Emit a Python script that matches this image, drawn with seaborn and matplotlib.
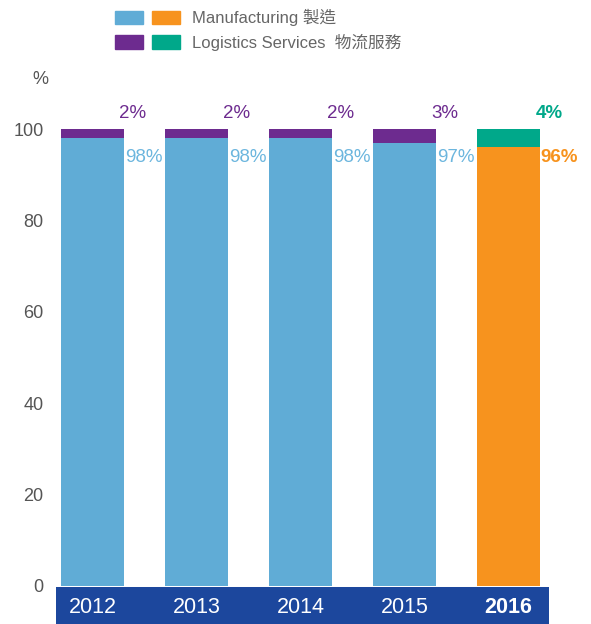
import pandas as pd
import matplotlib.pyplot as plt
import seaborn as sns
from matplotlib.patches import Patch, Rectangle
from matplotlib.legend_handler import HandlerTuple

# ============ DATA ============
years = ["2012", "2013", "2014", "2015", "2016"]
manufacturing = [98, 98, 98, 97, 96]
logistics = [2, 2, 2, 3, 4]
# ==============================

BLUE = "#60acd6"
ORANGE = "#f7931e"
PURPLE = "#6d2b8f"
GREEN = "#00a88a"
BAND = "#1c479d"
LIGHT_BLUE_TXT = "#6cb6de"
GREY = "#555555"

sns.set_theme(style="white")
plt.rcParams["font.family"] = ["Liberation Sans", "Noto Sans CJK TC", "DejaVu Sans"]

df = pd.DataFrame({"year": years, "mfg": manufacturing, "log": logistics})
df["total"] = df["mfg"] + df["log"]

fig = plt.figure(figsize=(5.91, 6.24), dpi=100)
ax = fig.add_axes([56 / 591, 1 - 586 / 624, 493 / 591, (586 - 60.5) / 624])

top_pal = [PURPLE] * 4 + [GREEN]
base_pal = [BLUE] * 4 + [ORANGE]

# stacked bars: draw totals first, manufacturing over them
sns.barplot(data=df, x="year", y="total", hue="year", palette=top_pal,
            width=0.6, legend=False, ax=ax, saturation=1, linewidth=0)
sns.barplot(data=df, x="year", y="mfg", hue="year", palette=base_pal,
            width=0.6, legend=False, ax=ax, saturation=1, linewidth=0)

ax.set_xlim(-0.35, 4.39)
ax.set_ylim(0, 115)
ax.set_yticks([0, 20, 40, 60, 80, 100])
ax.set_xlabel("")
ax.set_ylabel("")
sns.despine(ax=ax, left=True, bottom=True)
ax.grid(False)

ax.tick_params(axis="y", length=0, pad=9, labelsize=13, labelcolor=GREY)
ax.tick_params(axis="x", length=0, pad=8, labelsize=15.5, labelcolor="white")
for lbl in ax.get_xticklabels():
    if lbl.get_text() == "2016":
        lbl.set_fontweight("bold")

# dark blue band under the axis holding the year labels
ax.add_patch(Rectangle((0, -38 / 525.5), 1, 37 / 525.5, transform=ax.transAxes,
                       facecolor=BAND, edgecolor="none", clip_on=False, zorder=0))

# value labels
for i, row in df.iterrows():
    last = i == len(df) - 1
    weight = "bold" if last else "normal"
    ax.text(i + 0.31, 93.8, f"{row['mfg']}%", ha="left", va="center",
            fontsize=13.5, color=ORANGE if last else LIGHT_BLUE_TXT, fontweight=weight)
    ax.text(i + 0.39, row["total"] + 3.4, f"{row['log']}%", ha="center", va="center",
            fontsize=13.5, color=GREEN if last else PURPLE, fontweight=weight)

fig.text(40 / 591, 1 - 79 / 624, "%", ha="center", va="center", fontsize=13, color=GREY)

# legend: two swatches per entry
handles = [(Patch(color=BLUE), Patch(color=ORANGE)),
           (Patch(color=PURPLE), Patch(color=GREEN))]
labels = ["Manufacturing 製造", "Logistics Services  物流服務"]
fig.legend(handles, labels, handler_map={tuple: HandlerTuple(ndivide=None, pad=0.55)},
           loc="upper left", bbox_to_anchor=(115 / 591, 1 - 9 / 624), frameon=False,
           fontsize=12, labelcolor="#666666", handlelength=3.9, handleheight=0.85,
           handletextpad=0.75, labelspacing=0.45, borderpad=0, borderaxespad=0)

fig.savefig("out.png", dpi=100)
